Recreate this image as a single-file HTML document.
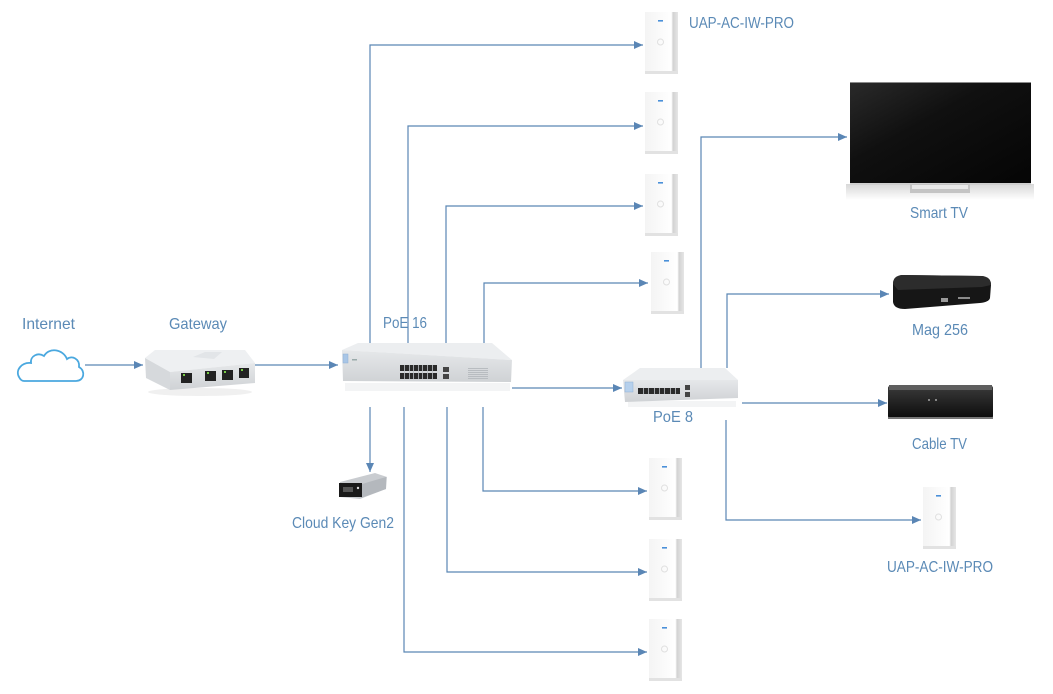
<!DOCTYPE html>
<html><head><meta charset="utf-8"><style>
html,body{margin:0;padding:0;background:#fff;}
svg{display:block;}
text{font-family:"Liberation Sans",sans-serif;font-size:16px;fill:#5b8ab6;}
</style></head><body>
<svg width="1053" height="694" viewBox="0 0 1053 694" xmlns="http://www.w3.org/2000/svg">
<defs>
<marker id="ah" markerUnits="userSpaceOnUse" markerWidth="10" markerHeight="8" refX="9" refY="4" orient="auto">
<path d="M0,0 L9,4 L0,8 Z" fill="#5a86b5"/>
</marker>
<linearGradient id="ap" x1="0" x2="1" y1="0" y2="0">
<stop offset="0" stop-color="#f4f4f4"/><stop offset="0.8" stop-color="#ffffff"/><stop offset="0.85" stop-color="#d2d2d2"/><stop offset="1" stop-color="#e6e6e6"/>
</linearGradient>
<linearGradient id="tv" x1="0" y1="0" x2="1" y2="1">
<stop offset="0" stop-color="#2a2a2a"/><stop offset="0.4" stop-color="#101010"/><stop offset="1" stop-color="#050505"/>
</linearGradient>
<linearGradient id="front" x1="0" y1="0" x2="0" y2="1">
<stop offset="0" stop-color="#e6e8ea"/><stop offset="1" stop-color="#cfd2d5"/>
</linearGradient>
<linearGradient id="blk" x1="0" y1="0" x2="0" y2="1">
<stop offset="0" stop-color="#3a3a3a"/><stop offset="1" stop-color="#0c0c0c"/>
</linearGradient>
<linearGradient id="shad" x1="0" y1="0" x2="0" y2="1">
<stop offset="0" stop-color="#d8d8d8"/><stop offset="1" stop-color="#ffffff"/>
</linearGradient>
<g id="apg">
<rect x="0" y="0" width="33" height="62" fill="url(#ap)"/>
<rect x="0" y="59" width="33" height="3" fill="#e2e2e2"/>
<rect x="13" y="8" width="5" height="1.6" fill="#4a90d9"/>
<circle cx="15.5" cy="30" r="3" fill="none" stroke="#e0e0e0" stroke-width="1"/>
</g>
</defs>

<!-- connectors -->
<g fill="none" stroke="#5a86b5" stroke-width="1.2">
<path d="M85,365 H143" marker-end="url(#ah)"/>
<path d="M252,365 H338" marker-end="url(#ah)"/>
<path d="M370,345 V45 H643" marker-end="url(#ah)"/>
<path d="M408,345 V126 H643" marker-end="url(#ah)"/>
<path d="M446,345 V206 H643" marker-end="url(#ah)"/>
<path d="M484,345 V283 H648" marker-end="url(#ah)"/>
<path d="M370,407 V472" marker-end="url(#ah)"/>
<path d="M483,407 V491 H647" marker-end="url(#ah)"/>
<path d="M447,407 V572 H647" marker-end="url(#ah)"/>
<path d="M404,407 V652 H647" marker-end="url(#ah)"/>
<path d="M512,388 H622" marker-end="url(#ah)"/>
<path d="M701,368 V137 H847" marker-end="url(#ah)"/>
<path d="M727,368 V294 H889" marker-end="url(#ah)"/>
<path d="M742,403 H887" marker-end="url(#ah)"/>
<path d="M726,420 V520 H921" marker-end="url(#ah)"/>
</g>

<!-- Cloud -->
<path d="M24,381 H76 C84,381 86,371 79,367 C80,359 72,355 67,359 C63,349 49,347 44,356 C38,352 30,356 31,363 C22,362 15,370 19,377 Q21,381 24,381 Z" fill="#fff" stroke="#4aa8df" stroke-width="1.8"/>

<!-- Gateway -->
<g>
<ellipse cx="200" cy="392" rx="52" ry="4" fill="#f0f0f0"/>
<polygon points="145,358 155,350 245,350 255,363 170,372" fill="#eef0f2"/>
<polygon points="145,358 170,372 170,390 146,378" fill="#d6d9dc"/>
<polygon points="170,372 255,363 255,383 170,390" fill="url(#front)"/>
<polygon points="193,357 205,352 222,352 214,359" fill="#e2e5e8"/>
<rect x="181" y="373" width="11" height="10" fill="#222"/>
<rect x="205" y="371" width="11" height="10" fill="#222"/>
<rect x="222" y="370" width="11" height="10" fill="#222"/>
<rect x="239" y="368" width="10" height="10" fill="#222"/>
<rect x="183" y="374" width="2" height="2" fill="#7c4"/>
<rect x="207" y="372" width="2" height="2" fill="#7c4"/>
<rect x="224" y="371" width="2" height="2" fill="#7c4"/>
<rect x="241" y="369" width="2" height="2" fill="#7c4"/>
</g>

<!-- PoE 16 -->
<g>
<rect x="345" y="383" width="165" height="8" fill="#f3f4f5"/>
<polygon points="342,350 358,343 492,343 512,360" fill="#eceef0"/>
<polygon points="342,350 512,360 511,382 343,381" fill="url(#front)"/>
<rect x="343" y="354" width="5" height="9" fill="#a9c6e6" stroke="#8fb0d4" stroke-width="0.5"/>
<rect x="352" y="359" width="5" height="1.5" fill="#9aa"/>
<g fill="#2a2a2a">
<rect x="400" y="365" width="37" height="6"/>
<rect x="400" y="373" width="37" height="6"/>
</g>
<g fill="#bfc3c7">
<rect x="404" y="365" width="0.8" height="14"/><rect x="409" y="365" width="0.8" height="14"/>
<rect x="413" y="365" width="0.8" height="14"/><rect x="418" y="365" width="0.8" height="14"/>
<rect x="422" y="365" width="0.8" height="14"/><rect x="427" y="365" width="0.8" height="14"/>
<rect x="432" y="365" width="0.8" height="14"/>
</g>
<rect x="443" y="367" width="6" height="5" fill="#444"/>
<rect x="443" y="374" width="6" height="5" fill="#444"/>
<g fill="#b8bcc0">
<rect x="468" y="368" width="20" height="1"/><rect x="468" y="370" width="20" height="1"/>
<rect x="468" y="372" width="20" height="1"/><rect x="468" y="374" width="20" height="1"/>
<rect x="468" y="376" width="20" height="1"/><rect x="468" y="378" width="20" height="1"/>
</g>
</g>

<!-- PoE 8 -->
<g>
<rect x="628" y="401" width="108" height="6" fill="#f3f4f5"/>
<polygon points="623,380 640,368 725,368 738,380" fill="#eceef0"/>
<polygon points="623,380 738,380 738,398 625,402" fill="url(#front)"/>
<rect x="625" y="382" width="8" height="10" fill="#b6d0ec" stroke="#8fb0d4" stroke-width="0.5"/>
<rect x="638" y="388" width="42" height="6" fill="#2a2a2a"/>
<g fill="#bfc3c7">
<rect x="643" y="388" width="0.8" height="6"/><rect x="648" y="388" width="0.8" height="6"/>
<rect x="654" y="388" width="0.8" height="6"/><rect x="659" y="388" width="0.8" height="6"/>
<rect x="664" y="388" width="0.8" height="6"/><rect x="670" y="388" width="0.8" height="6"/>
<rect x="675" y="388" width="0.8" height="6"/>
</g>
<rect x="685" y="385" width="5" height="5" fill="#444"/>
<rect x="685" y="392" width="5" height="5" fill="#444"/>
</g>

<!-- Cloud Key -->
<g>
<polygon points="340,482 375,473 387,477 386,489 360,499 340,497" fill="#c9ccd0"/>
<polygon points="362,484 386,477 386,489 361,498" fill="#b4b8bd"/>
<rect x="339" y="483" width="23" height="14" fill="#1a1a1a"/>
<rect x="343" y="487" width="10" height="5" fill="#555"/>
<circle cx="358" cy="488" r="1.2" fill="#ddd"/>
</g>

<!-- Access points -->
<use href="#apg" x="645" y="12"/>
<use href="#apg" x="645" y="92"/>
<use href="#apg" x="645" y="174"/>
<use href="#apg" x="651" y="252"/>
<use href="#apg" x="649" y="458"/>
<use href="#apg" x="649" y="539"/>
<use href="#apg" x="649" y="619"/>
<use href="#apg" x="923" y="487"/>

<!-- Smart TV -->
<g>
<rect x="846" y="184" width="188" height="16" fill="url(#shad)"/>
<rect x="850" y="82" width="181" height="101" fill="url(#tv)"/>
<rect x="850" y="82" width="181" height="1" fill="#8a8a8a"/>
<rect x="850" y="183" width="181" height="2" fill="#cfcfcf"/>
<polygon points="910,184 970,184 970,193 910,193" fill="#c4c4c4"/>
<rect x="912" y="185" width="56" height="4" fill="#e8e8e8"/>
</g>

<!-- Mag 256 -->
<g>
<path d="M893,284 Q893,276 902,275 L982,276 Q991,277 991,285 L990,298 Q989,302 980,303 L905,309 Q894,309 893,302 Z" fill="#161616"/>
<path d="M893,284 Q893,276 902,275 L982,276 Q991,277 991,285 L982,287 L898,290 Z" fill="#2c2c2c"/>
<rect x="941" y="298" width="7" height="4" fill="#9a9a9a"/>
<rect x="958" y="297" width="12" height="2" fill="#8a8a8a"/>
</g>

<!-- Cable TV -->
<g>
<rect x="888" y="386" width="105" height="32" rx="2" fill="url(#blk)"/>
<rect x="889" y="385" width="103" height="5" fill="#5e5e5e"/>
<rect x="888" y="417" width="105" height="2" fill="#777"/>
<circle cx="929" cy="400" r="0.9" fill="#ccc"/>
<circle cx="936" cy="400" r="0.9" fill="#ccc"/>
</g>

<!-- labels -->
<text x="22" y="329" textLength="53" lengthAdjust="spacingAndGlyphs">Internet</text>
<text x="169" y="329" textLength="58" lengthAdjust="spacingAndGlyphs">Gateway</text>
<text x="383" y="328" textLength="44" lengthAdjust="spacingAndGlyphs">PoE 16</text>
<text x="689" y="28" textLength="105" lengthAdjust="spacingAndGlyphs">UAP-AC-IW-PRO</text>
<text x="910" y="218" textLength="58" lengthAdjust="spacingAndGlyphs">Smart TV</text>
<text x="912" y="335" textLength="56" lengthAdjust="spacingAndGlyphs">Mag 256</text>
<text x="653" y="422" textLength="40" lengthAdjust="spacingAndGlyphs">PoE 8</text>
<text x="912" y="449" textLength="55" lengthAdjust="spacingAndGlyphs">Cable TV</text>
<text x="292" y="528" textLength="102" lengthAdjust="spacingAndGlyphs">Cloud Key Gen2</text>
<text x="887" y="572" textLength="106" lengthAdjust="spacingAndGlyphs">UAP-AC-IW-PRO</text>
</svg>
</body></html>
